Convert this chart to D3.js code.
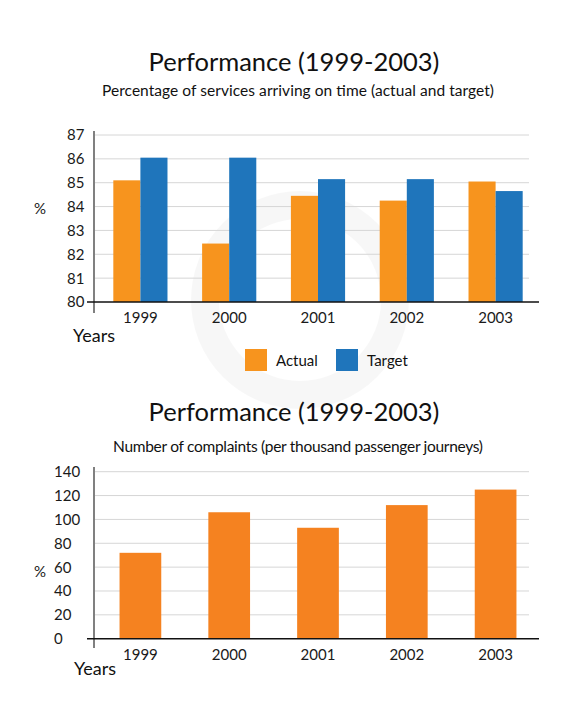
<!DOCTYPE html>
<html><head><meta charset="utf-8">
<script src="https://cdn.jsdelivr.net/npm/d3@7"></script>
<style>
body{margin:0;background:#fff;}
svg{display:block;font-family:Lato,"Open Sans",sans-serif;}
</style></head>
<body>
<svg id="c" width="588" height="720"></svg>
<script>
const years = ["1999","2000","2001","2002","2003"];
const actual = [85.1, 82.45, 84.45, 84.25, 85.05];
const target = [86.05, 86.05, 85.15, 85.15, 84.65];
const complaints = [72, 106, 93, 112, 125];
const ticks1 = [80,81,82,83,84,85,86,87];
const ticks2 = [0,20,40,60,80,100,120,140];
const seriesNames = ["Actual","Target"];

const cOrange = "#f7941e", cBlue = "#1f75bb", cOrange2 = "#f58220";
const svg = d3.select("#c");

// faint logo watermark (shape only)
svg.append("circle").attr("cx",300).attr("cy",300).attr("r",95)
  .attr("fill","none").attr("stroke","#000").attr("stroke-opacity",0.03).attr("stroke-width",28);

const x = d3.scaleBand().domain(years).range([96,540]).paddingInner(0.39).paddingOuter(0.195);
const xs = d3.scaleBand().domain(seriesNames).range([0, x.bandwidth()]);

function frame(y, ticks, gridL, gridR, labelX){
  const g = svg.append("g");
  g.selectAll("line").data(ticks.slice(1)).join("line")
    .attr("x1",gridL).attr("x2",gridR).attr("y1",d=>y(d)).attr("y2",d=>y(d))
    .attr("stroke","#d6d6d6").attr("stroke-width",1);
  g.selectAll("text").data(ticks).join("text")
    .attr("x",labelX).attr("y",d=>y(d)).attr("dy","0.36em").attr("text-anchor","start")
    .attr("font-size",15).attr("fill","#1a1a1a").text(d=>d);
}
function axes(y, base, top, bottom){
  const g = svg.append("g");
  g.append("line").attr("x1",94).attr("x2",94).attr("y1",top).attr("y2",bottom)
    .attr("stroke","#808080").attr("stroke-width",2);
  g.append("line").attr("x1",87).attr("x2",539).attr("y1",y(base)).attr("y2",y(base))
    .attr("stroke","#111").attr("stroke-width",1.5);
  g.selectAll("text").data(years).join("text")
    .attr("x",d=>x(d)+x.bandwidth()/2).attr("y",y(base)+21).attr("text-anchor","middle")
    .attr("font-size",15).attr("fill","#1a1a1a").text(d=>d);
}

function titles(ty, st, sub, subW){
  svg.append("text").attr("x",294).attr("y",ty).attr("text-anchor","middle")
    .attr("font-size",25.5).attr("fill","#111").text("Performance (1999-2003)");
  svg.append("text").attr("x",298).attr("y",st).attr("text-anchor","middle")
    .attr("font-size",15.5).attr("fill","#111")
    .attr("textLength",subW).attr("lengthAdjust","spacing").text(sub);
}
titles(71, 96, "Percentage of services arriving on time (actual and target)", 392);
titles(421, 452, "Number of complaints (per thousand passenger journeys)", 370);

// Chart 1
const y1 = d3.scaleLinear().domain([80,87]).range([302,135]);
frame(y1, ticks1, 94, 529, 67);
const data1 = years.map((yr,i)=>({yr, vals:[actual[i], target[i]]}));
svg.append("g").selectAll("g").data(data1).join("g")
  .attr("transform",d=>`translate(${x(d.yr)},0)`)
  .selectAll("rect").data(d=>d.vals.map((v,j)=>({v, s:seriesNames[j]}))).join("rect")
  .attr("x",d=>xs(d.s)).attr("width",xs.bandwidth())
  .attr("y",d=>y1(d.v)).attr("height",d=>y1(80)-y1(d.v))
  .attr("fill",d=>d.s==="Actual"?cOrange:cBlue);
axes(y1, 80, 131, 313);
svg.append("text").attr("x",40).attr("y",214).attr("text-anchor","middle").attr("font-size",15).attr("fill","#1a1a1a").text("%");
svg.append("text").attr("x",73).attr("y",342).attr("font-size",18).attr("fill","#111").text("Years");

// legend
const leg = svg.append("g").selectAll("g").data(seriesNames).join("g")
  .attr("transform",(d,i)=>`translate(${245+i*91},349)`);
leg.append("rect").attr("width",22).attr("height",22).attr("fill",d=>d==="Actual"?cOrange:cBlue);
leg.append("text").attr("x",31).attr("y",17).attr("font-size",15).attr("fill","#111").text(d=>d);

// Chart 2
const y2 = d3.scaleLinear().domain([0,140]).range([638.7,471.7]);
frame(y2, ticks2, 94, 529, 54);
const bw2 = x.bandwidth()*0.77;
svg.append("g").selectAll("rect").data(years.map((yr,i)=>({yr,v:complaints[i]}))).join("rect")
  .attr("x",d=>x(d.yr)+(x.bandwidth()-bw2)/2).attr("width",bw2)
  .attr("y",d=>y2(d.v)).attr("height",d=>y2(0)-y2(d.v)).attr("fill",cOrange2);
axes(y2, 0, 467, 648);
svg.append("text").attr("x",40).attr("y",577).attr("text-anchor","middle").attr("font-size",15).attr("fill","#1a1a1a").text("%");
svg.append("text").attr("x",74).attr("y",675).attr("font-size",18).attr("fill","#111").text("Years");
</script>
</body></html>
